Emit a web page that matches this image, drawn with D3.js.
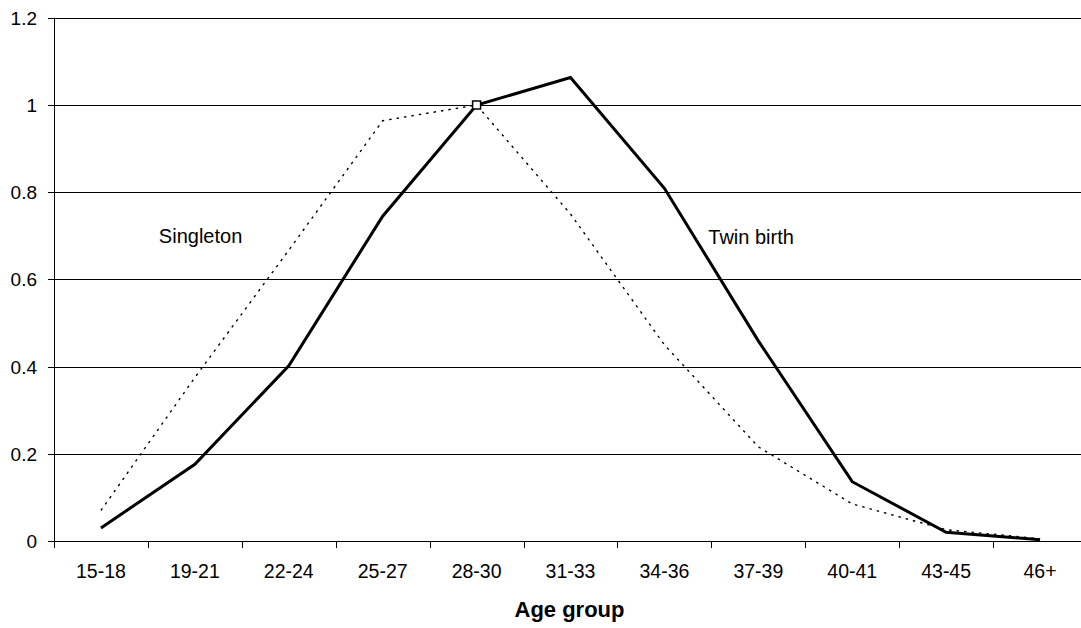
<!DOCTYPE html>
<html>
<head>
<meta charset="utf-8">
<script src="https://cdn.jsdelivr.net/npm/d3@7"></script>
<style>
  html, body { margin: 0; padding: 0; background: #fff; }
  svg { display: block; font-family: "Liberation Sans", Arial, sans-serif; }
</style>
</head>
<body>
<svg id="chart" width="1081" height="628"></svg>
<script>
// age groups on the x axis
const ageGroups = ["15-18", "19-21", "22-24", "25-27", "28-30", "31-33", "34-36", "37-39", "40-41", "43-45", "46+"];

// relative values (28-30 = 1)
const twinBirth = [0.03, 0.176, 0.402, 0.745, 1.0, 1.063, 0.809, 0.459, 0.136, 0.02, 0.003];
const singleton = [0.07, 0.375, 0.667, 0.964, 1.0, 0.75, 0.45, 0.216, 0.085, 0.026, 0.005];

const yTicks = [0, 0.2, 0.4, 0.6, 0.8, 1, 1.2];

const svg = d3.select("#chart");

const x = d3.scaleBand().domain(ageGroups).range([54, 1087]);
const y = d3.scaleLinear().domain([0, 1.2]).range([541, 17.8]);
const cx = d => x(d) + x.bandwidth() / 2;

// gridlines
svg.append("g")
  .selectAll("line")
  .data(yTicks.filter(t => t > 0))
  .join("line")
  .attr("x1", x.range()[0])
  .attr("x2", x.range()[1])
  .attr("y1", d => Math.round(y(d)) + 0.5)
  .attr("y2", d => Math.round(y(d)) + 0.5)
  .attr("stroke", "#000")
  .attr("stroke-width", 1);

// y axis
const yAxis = svg.append("g");
yAxis.append("line")
  .attr("x1", 54.5).attr("x2", 54.5)
  .attr("y1", y(1.2)).attr("y2", y(0))
  .attr("stroke", "#000");
yAxis.selectAll("line.tick")
  .data(yTicks)
  .join("line")
  .attr("class", "tick")
  .attr("x1", 48).attr("x2", 54)
  .attr("y1", d => Math.round(y(d)) + 0.5)
  .attr("y2", d => Math.round(y(d)) + 0.5)
  .attr("stroke", "#000");
yAxis.selectAll("text")
  .data(yTicks)
  .join("text")
  .attr("x", 37)
  .attr("y", d => y(d) + 7)
  .attr("text-anchor", "end")
  .attr("font-size", 19)
  .attr("fill", "#000")
  .text(d => d3.format("~g")(d));

// x axis
const xAxis = svg.append("g");
xAxis.append("line")
  .attr("x1", 54).attr("x2", x.range()[1])
  .attr("y1", Math.round(y(0)) + 0.5).attr("y2", Math.round(y(0)) + 0.5)
  .attr("stroke", "#000");
xAxis.selectAll("line.tick")
  .data(ageGroups.concat([null]))
  .join("line")
  .attr("class", "tick")
  .attr("x1", (d, i) => Math.round(x.range()[0] + i * x.bandwidth()) + 0.5)
  .attr("x2", (d, i) => Math.round(x.range()[0] + i * x.bandwidth()) + 0.5)
  .attr("y1", y(0))
  .attr("y2", y(0) + 7)
  .attr("stroke", "#000");
xAxis.selectAll("text")
  .data(ageGroups)
  .join("text")
  .attr("x", d => cx(d))
  .attr("y", 578)
  .attr("text-anchor", "middle")
  .attr("font-size", 19.5)
  .attr("fill", "#000")
  .text(d => d);

svg.append("text")
  .attr("x", (x.range()[0] + x.range()[1]) / 2 - 1)
  .attr("y", 617)
  .attr("text-anchor", "middle")
  .attr("font-size", 22)
  .attr("font-weight", "bold")
  .text("Age group");

// lines
const line = d3.line()
  .x((d, i) => cx(ageGroups[i]))
  .y(d => y(d));

svg.append("path")
  .datum(singleton)
  .attr("d", line)
  .attr("fill", "none")
  .attr("stroke", "#000")
  .attr("stroke-width", 1.4)
  .attr("stroke-dasharray", "2.5,5");

svg.append("path")
  .datum(twinBirth)
  .attr("d", line)
  .attr("fill", "none")
  .attr("stroke", "#000")
  .attr("stroke-width", 3)
  .attr("stroke-linejoin", "miter");

// reference point marker at 28-30
const refIndex = 4;
svg.append("rect")
  .attr("x", cx(ageGroups[refIndex]) - 4)
  .attr("y", y(twinBirth[refIndex]) - 4)
  .attr("width", 8)
  .attr("height", 8)
  .attr("fill", "#fff")
  .attr("stroke", "#000")
  .attr("stroke-width", 1.5);

// series labels
svg.append("text")
  .attr("x", cx("19-21") - 36)
  .attr("y", y(0.683))
  .attr("font-size", 20)
  .text("Singleton");

svg.append("text")
  .attr("x", cx("37-39") - 50)
  .attr("y", y(0.681))
  .attr("font-size", 20)
  .text("Twin birth");
</script>
</body>
</html>
